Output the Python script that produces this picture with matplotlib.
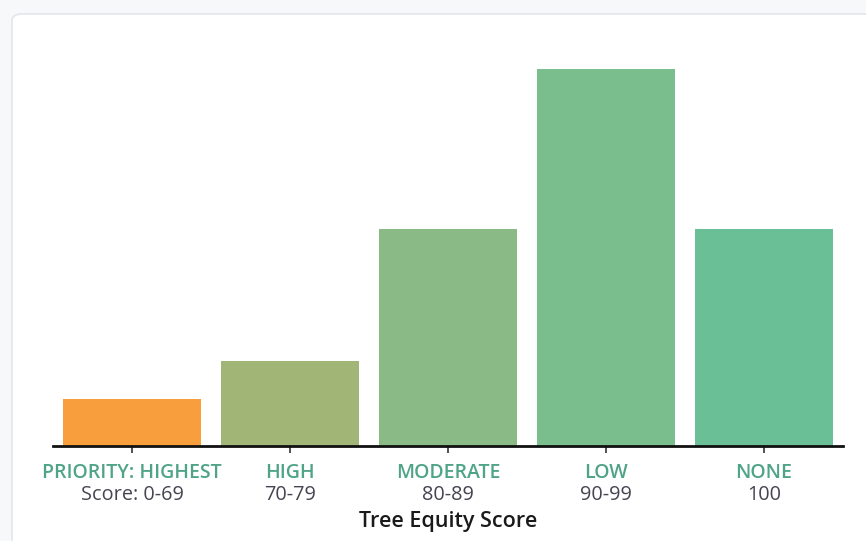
import matplotlib
matplotlib.use("Agg")
import matplotlib.pyplot as plt
from matplotlib.patches import FancyBboxPatch
from matplotlib.transforms import blended_transform_factory

categories = ["PRIORITY: HIGHEST", "HIGH", "MODERATE", "LOW", "NONE"]
score_ranges = ["Score: 0-69", "70-79", "80-89", "90-99", "100"]
values = [5, 9, 23, 40, 23]
colors = ["#f99e3c", "#a1b576", "#8aba85", "#7bbe8e", "#6bbf97"]

plt.rcParams['font.family'] = ['Open Sans', 'DejaVu Sans']

W, H, DPI = 866, 541, 100
fig = plt.figure(figsize=(W / DPI, H / DPI), dpi=DPI)
fig.patch.set_facecolor("#f7f8fa")

# card
card = FancyBboxPatch((12 / W, -0.2), 1.2, (H - 14) / H + 0.2,
                      boxstyle="round,pad=0,rounding_size=0.012",
                      transform=fig.transFigure, facecolor="white",
                      edgecolor="#e3e5ea", linewidth=1.2, zorder=-10)
fig.patches.append(card)

ax = fig.add_axes([53 / W, 95 / H, 790 / W, 377 / H])
ax.set_zorder(1)
ax.set_facecolor("none")
x = list(range(len(categories)))
ax.bar(x, values, width=138 / 158, color=colors, zorder=2)
ax.set_xlim(-0.5, len(categories) - 0.5)
ax.set_ylim(0, 40)
ax.set_yticks([])
for s in ["top", "right", "left"]:
    ax.spines[s].set_visible(False)
ax.spines["bottom"].set_linewidth(2)
ax.spines["bottom"].set_color("#111111")
ax.set_xticks(x)
ax.set_xticklabels([""] * len(x))
ax.tick_params(axis="x", length=5, width=1.2, color="#333333")

px = 72 / DPI
trans = blended_transform_factory(ax.transData, ax.transAxes)
for i, (c, s) in enumerate(zip(categories, score_ranges)):
    ax.annotate(c, xy=(i, 0), xycoords=trans, xytext=(0, -27 * px),
                textcoords="offset points", ha="center", va="center",
                fontsize=14, color="#4fa487", fontweight="semibold")
    ax.annotate(s, xy=(i, 0), xycoords=trans, xytext=(0, -48.5 * px),
                textcoords="offset points", ha="center", va="center",
                fontsize=14.3, color="#454552")
ax.annotate("Tree Equity Score", xy=(0.5, 0), xycoords="axes fraction",
            xytext=(0, -76 * px), textcoords="offset points",
            ha="center", va="center", fontsize=15.5, color="#1a1a1a",
            fontweight="semibold")

fig.savefig("out.png", dpi=DPI, facecolor=fig.get_facecolor())
